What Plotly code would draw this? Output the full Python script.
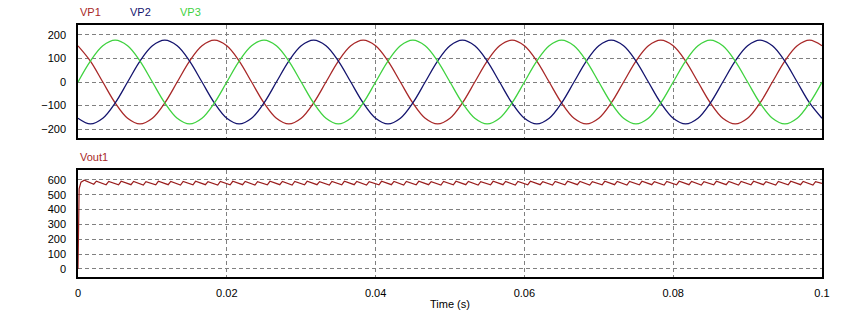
import plotly.graph_objects as go

# ---- data ----
# three-phase inputs, sampled every 30 degrees (1/600 s), time in ms
t_ms = [0, 1.667, 3.333, 5, 6.667, 8.333, 10, 11.667, 13.333, 15, 16.667, 18.333,
        20, 21.667, 23.333, 25, 26.667, 28.333, 30, 31.667, 33.333, 35, 36.667, 38.333,
        40, 41.667, 43.333, 45, 46.667, 48.333, 50, 51.667, 53.333, 55, 56.667, 58.333,
        60, 61.667, 63.333, 65, 66.667, 68.333, 70, 71.667, 73.333, 75, 76.667, 78.333,
        80, 81.667, 83.333, 85, 86.667, 88.333, 90, 91.667, 93.333, 95, 96.667, 98.333,
        100]
vp1 = [154, 89, 0, -89, -154, -178, -154, -89, 0, 89, 154, 178,
       154, 89, 0, -89, -154, -178, -154, -89, 0, 89, 154, 178,
       154, 89, 0, -89, -154, -178, -154, -89, 0, 89, 154, 178,
       154, 89, 0, -89, -154, -178, -154, -89, 0, 89, 154, 178,
       154, 89, 0, -89, -154, -178, -154, -89, 0, 89, 154, 178,
       154]
vp2 = [-154, -178, -154, -89, 0, 89, 154, 178, 154, 89, 0, -89,
       -154, -178, -154, -89, 0, 89, 154, 178, 154, 89, 0, -89,
       -154, -178, -154, -89, 0, 89, 154, 178, 154, 89, 0, -89,
       -154, -178, -154, -89, 0, 89, 154, 178, 154, 89, 0, -89,
       -154, -178, -154, -89, 0, 89, 154, 178, 154, 89, 0, -89,
       -154]
vp3 = [0, 89, 154, 178, 154, 89, 0, -89, -154, -178, -154, -89,
       0, 89, 154, 178, 154, 89, 0, -89, -154, -178, -154, -89,
       0, 89, 154, 178, 154, 89, 0, -89, -154, -178, -154, -89,
       0, 89, 154, 178, 154, 89, 0, -89, -154, -178, -154, -89,
       0, 89, 154, 178, 154, 89, 0, -89, -154, -178, -154, -89,
       0]

# rectified output: start-up, then trough/peak pairs of the ripple
vout_t_ms = [0, 0.05, 0.15, 0.4, 0.85,
             2.12, 2.47, 3.78, 4.13, 5.45, 5.80, 7.12, 7.47, 8.78, 9.13,
             10.45, 10.80, 12.12, 12.47, 13.78, 14.13, 15.45, 15.80, 17.12, 17.47,
             18.78, 19.13, 20.45, 20.80, 22.12, 22.47, 23.78, 24.13, 25.45, 25.80,
             27.12, 27.47, 28.78, 29.13, 30.45, 30.80, 32.12, 32.47, 33.78, 34.13,
             35.45, 35.80, 37.12, 37.47, 38.78, 39.13, 40.45, 40.80, 42.12, 42.47,
             43.78, 44.13, 45.45, 45.80, 47.12, 47.47, 48.78, 49.13, 50.45, 50.80,
             52.12, 52.47, 53.78, 54.13, 55.45, 55.80, 57.12, 57.47, 58.78, 59.13,
             60.45, 60.80, 62.12, 62.47, 63.78, 64.13, 65.45, 65.80, 67.12, 67.47,
             68.78, 69.13, 70.45, 70.80, 72.12, 72.47, 73.78, 74.13, 75.45, 75.80,
             77.12, 77.47, 78.78, 79.13, 80.45, 80.80, 82.12, 82.47, 83.78, 84.13,
             85.45, 85.80, 87.12, 87.47, 88.78, 89.13, 90.45, 90.80, 92.12, 92.47,
             93.78, 94.13, 95.45, 95.80, 97.12, 97.47, 98.78, 99.13, 100.0]
vout1 = [0, 420, 540, 585, 598,
         571, 592, 568, 590, 567, 591, 568, 590, 566, 589,
         567, 591, 568, 590, 566, 590, 567, 591, 568, 589,
         566, 590, 567, 591, 568, 590, 566, 589, 567, 591,
         568, 590, 566, 590, 567, 591, 568, 589, 566, 590,
         567, 591, 568, 590, 566, 589, 567, 591, 568, 590,
         566, 590, 567, 591, 568, 589, 566, 590, 567, 591,
         568, 590, 566, 589, 567, 591, 568, 590, 566, 590,
         567, 591, 568, 589, 566, 590, 567, 591, 568, 590,
         566, 589, 567, 591, 568, 590, 566, 590, 567, 591,
         568, 589, 566, 590, 567, 591, 568, 590, 566, 589,
         567, 591, 568, 590, 566, 590, 567, 591, 568, 589,
         566, 590, 567, 591, 568, 590, 566, 589, 577]

x_ticks = [0, 0.02, 0.04, 0.06, 0.08, 0.1]
x_tick_text = ["0", "0.02", "0.04", "0.06", "0.08", "0.1"]
top_ticks = [200, 100, 0, -100, -200]
bottom_ticks = [600, 500, 400, 300, 200, 100, 0]

labels_top = ["VP1", "VP2", "VP3"]
colors_top = ["#a82828", "#14146e", "#3fd23f"]

t_s = [v / 1000 for v in t_ms]
vout_t_s = [v / 1000 for v in vout_t_ms]

# ---- figure ----
W, H = 843, 313
L, R, T, B = 78, 21, 25, 36
ph = H - T - B


def yfrac(py):
    return (H - B - py) / ph


fig = go.Figure()
for name, vals, col in zip(labels_top, [vp1, vp2, vp3], colors_top):
    fig.add_trace(go.Scatter(x=t_s, y=vals, mode="lines", name=name,
                             line=dict(color=col, width=1.3, shape="spline", smoothing=1.0),
                             xaxis="x", yaxis="y", showlegend=False))
fig.add_trace(go.Scatter(x=vout_t_s, y=vout1, mode="lines", name="Vout1",
                         line=dict(color="#9a1e1e", width=1.2),
                         xaxis="x2", yaxis="y2", showlegend=False))

grid = dict(showgrid=True, gridcolor="#808080", griddash="4px,3px", gridwidth=1,
            showline=True, mirror=True, linecolor="black", linewidth=1.5,
            zeroline=False, ticks="", automargin=False)
font = dict(family="Liberation Sans, Arial, sans-serif", size=11, color="black")

fig.update_layout(
    width=W, height=H,
    margin=dict(l=L, r=R, t=T, b=B, autoexpand=False),
    paper_bgcolor="white", plot_bgcolor="white",
    font=font,
    xaxis=dict(domain=[0, 1], range=[0, 0.1], tickvals=x_ticks, showticklabels=False,
               anchor="y", **grid),
    yaxis=dict(domain=[yfrac(138), 1], range=[-238, 242.5], tickvals=top_ticks,
               anchor="x", ticklabelstandoff=8, **grid),
    xaxis2=dict(domain=[0, 1], range=[0, 0.1], tickvals=x_ticks, ticktext=x_tick_text,
                anchor="y2", ticklabelstandoff=5,
                title=dict(text="Time (s)", standoff=2, font=dict(size=11)), **grid),
    yaxis2=dict(domain=[0, yfrac(170)], range=[-54, 667], tickvals=bottom_ticks,
                anchor="x2", ticklabelstandoff=8, **grid),
)

label_x = [78, 128, 178]
for txt, col, px in zip(labels_top, colors_top, label_x):
    fig.add_annotation(text=txt, x=(px - L) / (W - L - R), y=yfrac(12.5), xref="paper", yref="paper",
                       xanchor="left", yanchor="middle", showarrow=False,
                       font=dict(color=col, size=11))
fig.add_annotation(text="Vout1", x=0, y=yfrac(157), xref="paper", yref="paper",
                   xanchor="left", yanchor="middle", showarrow=False,
                   font=dict(color="#a82828", size=11))

fig.write_html("out.html")
